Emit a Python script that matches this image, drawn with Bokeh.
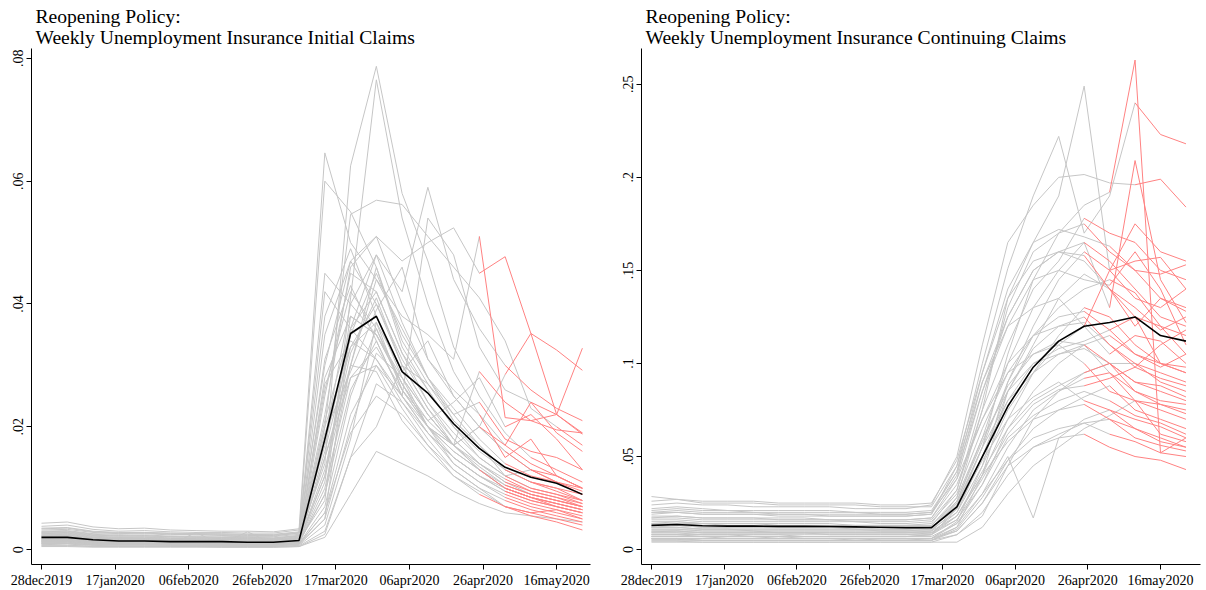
from bokeh.plotting import figure
from bokeh.layouts import row
from bokeh.models import Range1d, FixedTicker, Title
from bokeh.embed import file_html
from bokeh.resources import INLINE
import pandas as pd

# ---------------- data ----------------
week_dates = ["2019-12-28", "2020-01-04", "2020-01-11", "2020-01-18", "2020-01-25",
              "2020-02-01", "2020-02-08", "2020-02-15", "2020-02-22", "2020-02-29",
              "2020-03-07", "2020-03-14", "2020-03-21", "2020-03-28", "2020-04-04",
              "2020-04-11", "2020-04-18", "2020-04-25", "2020-05-02", "2020-05-09",
              "2020-05-16", "2020-05-23"]
tick_labels = ["28dec2019", "17jan2020", "06feb2020", "26feb2020",
               "17mar2020", "06apr2020", "26apr2020", "16may2020"]

# Initial claims, per 1000 (state rows, 22 weekly values)
initial_claims = [
    [2.6, 2.7, 2.2, 2.0, 2.1, 1.9, 1.9, 1.8, 1.8, 1.7, 2.0, 14, 62.5, 78.7, 58, 47, 33, 25, 19, 15, 13, 11],
    [1.8, 1.9, 1.5, 1.4, 1.4, 1.3, 1.3, 1.3, 1.2, 1.2, 1.5, 8, 41, 76.5, 54, 40, 29, 22, 17, 14, 12, 10],
    [4.3, 4.5, 3.7, 3.4, 3.5, 3.2, 3.1, 3.0, 3.0, 2.9, 3.4, 64.6, 50, 44, 36, 28, 23, 18, 14, 12, 11, 10],
    [3.0, 3.1, 2.6, 2.5, 2.6, 2.4, 2.5, 2.3, 2.2, 2.2, 2.7, 60, 55, 46, 34, 27, 21, 17, 13, 11, 10, 9],
    [2.2, 2.3, 1.8, 1.7, 1.7, 1.6, 1.6, 1.6, 1.5, 1.5, 1.8, 20, 54.6, 56.9, 56.2, 51, 46, 41, 34, 23, 20, 17],
    [1.5, 1.6, 1.3, 1.2, 1.2, 1.1, 1.1, 1.1, 1.0, 1.0, 1.3, 12, 30, 44, 38, 35, 31, 51, 21.5, 21, 19.5, 19],
    [2.0, 2.1, 1.7, 1.6, 1.6, 1.5, 1.5, 1.4, 1.4, 1.4, 1.7, 18, 40, 48, 42, 59, 44, 36, 30, 26, 23, 21],
    [2.4, 2.5, 2.0, 1.9, 1.9, 1.8, 1.8, 1.7, 1.7, 1.7, 2.1, 22, 46, 51, 47, 50, 52.4, 45, 47.7, 35.2, 32.5, 29.2],
    [1.2, 1.3, 1.0, 0.9, 0.9, 0.9, 0.9, 0.8, 0.8, 0.8, 1.0, 6, 22, 30, 25, 54, 48, 33, 26, 24, 22, 19],
    [3.5, 3.6, 3.0, 2.8, 2.8, 2.7, 2.6, 2.6, 2.5, 2.5, 2.9, 30, 47, 51, 40, 31, 25, 20, 16, 13, 12, 10],
    [1.0, 1.1, 0.8, 0.8, 0.8, 0.7, 0.7, 0.7, 0.7, 0.7, 0.9, 5, 36, 48, 37, 28, 21, 17, 13, 11, 10, 8],
    [1.4, 1.5, 1.2, 1.1, 1.1, 1.1, 1.0, 1.0, 1.0, 1.0, 1.2, 25, 45, 42, 32, 24, 19, 15, 12, 10, 9, 8],
    [2.8, 2.9, 2.4, 2.2, 2.3, 2.1, 2.1, 2.0, 2.0, 1.9, 2.3, 35, 47, 40, 30, 23, 18, 14, 11, 9.5, 8.5, 7.5],
    [1.6, 1.7, 1.4, 1.3, 1.3, 1.2, 1.2, 1.2, 1.1, 1.1, 1.4, 15, 30, 46, 33, 26, 20, 16, 13, 11, 9.5, 8],
    [0.8, 0.9, 0.7, 0.6, 0.6, 0.6, 0.6, 0.6, 0.6, 0.5, 0.7, 4, 18, 37, 29, 22, 17, 13, 10, 8.5, 7, 6],
    [1.9, 2.0, 1.6, 1.5, 1.5, 1.4, 1.4, 1.4, 1.3, 1.3, 1.6, 28, 38, 35, 27, 20, 16, 13, 10, 8.5, 7.5, 6.5],
    [2.1, 2.2, 1.8, 1.7, 1.8, 1.6, 1.6, 1.6, 1.5, 1.5, 1.9, 20, 33, 40, 31, 24, 18, 14, 11.5, 9.5, 8.5, 7],
    [1.3, 1.4, 1.1, 1.0, 1.0, 1.0, 1.0, 0.9, 0.9, 0.9, 1.1, 10, 28, 33, 26, 21, 17, 14, 11, 9, 8, 7],
    [3.2, 3.3, 2.8, 2.6, 2.7, 2.5, 2.4, 2.4, 2.3, 2.3, 2.7, 42, 36, 31, 25, 19, 15, 12, 10, 8.5, 7.5, 6.5],
    [1.1, 1.2, 0.9, 0.9, 0.9, 0.8, 0.8, 0.8, 0.8, 0.8, 1.0, 7, 25, 36, 27, 20, 15, 12, 9.5, 8, 7, 6],
    [2.5, 2.6, 2.1, 2.0, 2.0, 1.9, 1.9, 1.9, 1.8, 1.8, 2.2, 17, 35, 45, 35, 28, 22, 24, 18, 16, 15, 13],
    [0.7, 0.7, 0.6, 0.5, 0.5, 0.5, 0.5, 0.5, 0.5, 0.5, 0.6, 3, 15, 27, 24, 18, 13, 10, 8, 6.5, 5.5, 4.5],
    [1.7, 1.8, 1.4, 1.3, 1.4, 1.3, 1.3, 1.2, 1.2, 1.2, 1.5, 12, 35, 38, 29, 34, 25, 20, 16, 13, 11, 9.5],
    [2.3, 2.4, 1.9, 1.8, 1.8, 1.7, 1.7, 1.7, 1.6, 1.6, 1.9, 26, 42, 36, 26, 20, 16, 13, 10, 8.5, 7.5, 6.5],
    [1.5, 1.5, 1.2, 1.2, 1.2, 1.1, 1.1, 1.1, 1.0, 1.0, 1.3, 13, 32, 41, 30, 23, 17, 13.5, 10.5, 9, 8, 7],
    [0.9, 1.0, 0.8, 0.7, 0.7, 0.7, 0.7, 0.7, 0.6, 0.6, 0.8, 5, 20, 32, 28, 22, 17, 20, 17, 24, 19, 16],
    [3.8, 4.0, 3.3, 3.0, 3.1, 2.9, 2.8, 2.8, 2.7, 2.7, 3.2, 38, 49, 38, 28, 22, 17, 13, 10.5, 9, 8, 7],
    [1.2, 1.3, 1.0, 1.0, 1.0, 0.9, 0.9, 0.9, 0.9, 0.9, 1.1, 9, 26, 34, 25, 19, 14, 11, 9, 7.5, 6.5, 5.5],
    [2.0, 2.0, 1.7, 1.6, 1.6, 1.5, 1.5, 1.5, 1.4, 1.4, 1.7, 19, 29, 39, 46, 31, 26, 22, 15, 18, 12, 10],
    [1.4, 1.5, 1.2, 1.1, 1.1, 1.0, 1.0, 1.0, 1.0, 1.0, 1.2, 11, 38, 35, 28, 20, 14, 11, 8.5, 7, 6, 5],
    [0.6, 0.6, 0.5, 0.5, 0.5, 0.5, 0.5, 0.4, 0.4, 0.4, 0.5, 2.5, 15, 20, 30, 27, 22, 17, 12, 10, 9, 7.5],
    [2.7, 2.8, 2.3, 2.2, 2.2, 2.1, 2.0, 2.0, 2.0, 1.9, 2.3, 27, 34, 31, 24, 19, 15, 12, 9.5, 8, 7, 6],
    [1.6, 1.6, 1.3, 1.3, 1.3, 1.2, 1.2, 1.2, 1.1, 1.1, 1.4, 15, 28, 30, 23, 17, 12, 9, 7, 6, 5, 4],
    [1.0, 1.0, 0.8, 0.8, 0.8, 0.8, 2.8, 0.7, 0.7, 0.7, 0.9, 6, 19, 25, 22, 17, 13, 10, 7, 5.5, 4.5, 3.2],
    [1.8, 1.9, 1.5, 1.5, 1.5, 1.4, 1.4, 1.3, 1.3, 1.3, 1.6, 16, 33, 37, 26, 20, 17, 29, 24, 21, 22, 18.8],
    [2.9, 3.0, 2.5, 2.3, 2.4, 2.2, 2.2, 2.2, 2.1, 2.1, 2.5, 31, 43, 34, 25, 20, 17, 20, 28.5, 35.2, 22, 32.8],
    [0.5, 0.5, 0.4, 0.4, 0.4, 0.4, 0.4, 0.4, 0.4, 0.4, 0.5, 2, 9, 16, 14, 12, 9.5, 7.5, 6, 5.5, 5, 4.5],
    [1.3, 1.3, 1.1, 1.0, 1.0, 1.0, 1.0, 1.0, 2.9, 0.9, 1.2, 9, 30, 29, 21, 16, 12, 9.5, 7, 6, 6.5, 5],
    [2.2, 2.3, 1.9, 1.8, 1.8, 1.7, 1.7, 1.6, 1.6, 1.6, 1.9, 21, 36, 42, 32, 26, 20, 15, 12, 13, 11, 9],
    [3.4, 3.5, 2.9, 2.7, 2.8, 2.6, 2.6, 2.5, 2.5, 2.4, 2.8, 45, 40, 35, 27, 21, 24, 28, 20, 22, 18, 13],
]
# week index at which each state's line turns red (None = never)
initial_reopen = [19, 18, 18, 19, 20, 17, 18, 17, 19, 18, 18, 18, 18, 19, 18, 17, 18, 19, 18, 18,
                  17, 18, 19, 18, 18, 17, 18, 18, 17, 18, 19, 18, 17, 18, 17, 18, None, 18, 19, 18]
initial_mean = [2.0, 2.0, 1.6, 1.4, 1.4, 1.3, 1.3, 1.3, 1.2, 1.2, 1.5,
                18, 35.2, 38, 29, 25.5, 20.5, 16.5, 13.4, 11.8, 10.8, 9.0]

# Continuing claims, per 1000
continuing_claims = [
    [20, 20, 19, 19, 19, 19, 19, 18, 18, 18, 18, 19, 45, 100, 151, 190, 222, 170, 190, 240, 223, 218],
    [8, 8, 7, 7, 7, 7, 7, 7, 7, 7, 7, 8, 22, 55, 105, 145, 170, 185, 192, 263, 52, 60],
    [12, 12, 11, 11, 11, 11, 11, 11, 11, 10, 10, 11, 28, 75, 135, 165, 190, 249, 150, 135, 130, 140],
    [17, 18, 17, 17, 17, 16, 16, 16, 16, 16, 16, 17, 38, 85, 125, 150, 160, 165, 130, 209, 145, 122],
    [24, 25, 24, 24, 23, 23, 23, 23, 22, 22, 22, 24, 50, 110, 165, 185, 200, 201.5, 197, 196, 199, 184],
    [6, 6, 6, 6, 6, 6, 6, 6, 6, 5, 5, 6, 15, 45, 90, 120, 145, 160, 150, 155, 157, 140],
    [15, 15, 14, 14, 14, 14, 14, 14, 13, 13, 13, 14, 32, 80, 130, 160, 170, 175, 160, 150, 148, 153],
    [28.5, 27, 26, 26, 26, 25, 25, 25, 25, 24, 24, 25, 48, 95, 140, 165, 172, 168, 163, 150, 135, 130],
    [10, 10, 10, 10, 10, 9, 9, 9, 9, 9, 9, 10, 26, 60, 100, 130, 150, 165, 155, 140, 125, 120],
    [5, 5, 5, 5, 5, 5, 5, 5, 5, 5, 5, 5, 12, 40, 85, 110, 135, 148, 140, 125, 120, 105],
    [19, 20, 19, 19, 19, 18, 18, 18, 18, 18, 18, 19, 40, 90, 125, 150, 160, 158, 140, 120, 135, 128],
    [13, 14, 13, 13, 13, 12, 12, 12, 12, 12, 12, 12, 24, 55, 90, 115, 130, 140, 145, 138, 120, 115],
    [8, 8, 8, 8, 8, 8, 7, 7, 7, 7, 7, 8, 18, 40, 70, 95, 115, 130, 125, 110, 100, 95],
    [22, 23, 22, 21, 21, 21, 21, 21, 20, 20, 20, 21, 42, 85, 120, 145, 150, 145, 142, 160, 140, 110],
    [11, 11, 10, 10, 10, 10, 10, 10, 10, 10, 10, 10, 22, 50, 85, 108, 120, 125, 110, 100, 95, 90],
    [7, 7, 7, 7, 7, 6, 6, 6, 6, 6, 6, 6, 14, 35, 65, 85, 100, 110, 115, 105, 100, 98],
    [16, 16, 15, 15, 15, 15, 15, 15, 15, 14, 14, 15, 30, 65, 95, 115, 125, 128, 118, 105, 98, 105],
    [9, 9, 9, 9, 9, 9, 9, 8, 8, 8, 8, 9, 20, 50, 80, 100, 108, 112, 118, 125, 100, 95],
    [12, 13, 12, 12, 12, 12, 12, 12, 11, 11, 11, 12, 25, 55, 80, 95, 105, 110, 100, 90, 85, 80],
    [5.5, 5.5, 5, 5, 5, 5, 5, 5, 5, 5, 5, 5, 8, 18, 45, 70, 85, 95, 100, 100, 90, 85],
    [18, 18, 17, 17, 17, 17, 17, 16, 16, 16, 16, 17, 35, 70, 100, 115, 120, 122, 110, 98, 92, 88],
    [7, 7, 7, 6, 6, 6, 6, 6, 6, 6, 6, 6, 12, 30, 55, 75, 85, 92, 95, 80, 75, 70],
    [14, 15, 14, 14, 14, 13, 13, 13, 13, 13, 13, 13, 28, 60, 85, 100, 105, 108, 100, 90, 88, 82],
    [10, 10, 9, 9, 9, 9, 9, 9, 9, 9, 9, 9, 18, 42, 65, 80, 88, 95, 100, 85, 78, 75],
    [6, 6, 5, 5, 5, 5, 5, 5, 5, 5, 5, 5, 10, 25, 48, 65, 75, 82, 88, 75, 70, 65],
    [20, 21, 20, 20, 20, 19, 19, 19, 19, 19, 19, 20, 38, 70, 95, 105, 110, 100, 85, 80, 78, 73],
    [9, 9, 8, 8, 8, 8, 8, 8, 8, 8, 8, 8, 16, 35, 60, 72, 80, 85, 80, 72, 68, 62],
    [13, 13, 12, 12, 12, 12, 12, 12, 12, 11, 11, 12, 22, 48, 70, 82, 90, 80, 75, 70, 66, 60],
    [4.5, 4.5, 4, 4, 4, 4, 4, 4, 4, 4, 4, 4, 8, 20, 40, 55, 62, 68, 70, 60, 56, 53],
    [11, 11, 11, 11, 10, 10, 10, 10, 10, 10, 10, 10, 18, 40, 58, 70, 75, 78, 70, 65, 58, 55],
    [8, 8, 8, 8, 7, 7, 7, 7, 7, 7, 7, 7, 14, 30, 48, 60, 65, 68, 62, 58, 52, 50],
    [26, 27, 25, 25, 25, 24, 24, 24, 24, 23, 23, 23, 45, 90, 120, 130, 135, 120, 150, 175, 160, 155],
    [4, 4, 4, 4, 4, 4, 4, 4, 4, 4, 4, 4, 4, 12, 30, 45, 55, 65, 72, 80, 62, 58],
    [6, 6, 6, 6, 6, 6, 6, 6, 5, 5, 5, 5, 11, 28, 50, 17, 60, 70, 75, 65, 60, 55],
    [17, 17, 16, 16, 16, 16, 16, 16, 15, 15, 15, 16, 32, 75, 110, 140, 155, 178, 170, 165, 150, 145],
    [12, 12, 11, 11, 11, 11, 11, 11, 11, 11, 11, 11, 20, 45, 75, 95, 110, 120, 105, 115, 112, 100],
    [9.5, 10, 9, 9, 9, 9, 9, 9, 9, 9, 9, 9, 16, 38, 62, 78, 86, 88, 92, 98, 110, 118],
    [14, 14, 14, 13, 13, 13, 13, 13, 13, 13, 13, 13, 26, 58, 88, 105, 112, 110, 95, 85, 80, 78],
    [7, 7, 7, 7, 7, 7, 6, 6, 6, 6, 6, 6, 10, 25, 45, 55, 60, 62, 55, 50, 48, 43],
    [21, 22, 21, 21, 20, 20, 20, 20, 20, 19, 19, 20, 42, 95, 135, 155, 160, 155, 140, 130, 118, 125],
]
continuing_reopen = [19, 18, 18, 18, 19, 17, 17, 18, 17, 18, 17, 18, 17, 18, 17, 18, 17, 18, 17, 19,
                     18, 17, 18, 17, 18, 17, 18, 17, 18, 17, 18, 17, 19, 18, 17, 18, 17, 18, 17, 18]
continuing_mean = [13, 13.5, 12.8, 12.6, 12.6, 12.5, 12.5, 12.4, 12.2, 12, 11.8,
                   11.8, 23, 50, 77, 98, 112, 120, 122, 125, 115, 112]

# ---------------- build ----------------
base = pd.Timestamp(week_dates[0])
days = [(pd.Timestamp(d) - base).days for d in week_dates]
tick_days = [(pd.to_datetime(t, format="%d%b%Y") - base).days for t in tick_labels]

GRAY = "#c6c6c6"
RED = "#ff8282"
FONT = "Liberation Serif"


def make_panel(title_text, states, reopen, mean, yticks, ylabels,
               xr, yr, ml, mr):
    p = figure(width=603, height=590, output_backend="svg", toolbar_location=None,
               x_range=Range1d(*xr), y_range=Range1d(*yr), title_location=None,
               min_border_left=ml, min_border_right=mr, min_border_top=48,
               min_border_bottom=0)
    p.add_layout(Title(text=title_text, align="left", offset=4, standoff=1,
                       text_font=FONT, text_font_size="19.6px", text_font_style="normal",
                       text_color="black", text_line_height=1.0), "above")
    p.xgrid.visible = False
    p.ygrid.visible = False
    p.outline_line_color = None
    p.background_fill_color = "white"

    for ax in (p.xaxis[0], p.yaxis[0]):
        ax.axis_line_color = "black"
        ax.major_tick_line_color = "black"
        ax.minor_tick_line_color = None
        ax.major_tick_in = 0
        ax.major_tick_out = 5
        ax.major_label_text_font = FONT
        ax.major_label_text_font_size = "14px"
        ax.major_label_text_color = "black"
    p.xaxis[0].ticker = FixedTicker(ticks=tick_days)
    p.xaxis[0].major_label_overrides = {d: t for d, t in zip(tick_days, tick_labels)}
    p.xaxis[0].major_label_standoff = 3
    p.yaxis[0].ticker = FixedTicker(ticks=yticks)
    p.yaxis[0].major_label_overrides = {v: t for v, t in zip(yticks, ylabels)}
    p.yaxis[0].major_label_orientation = "vertical"
    p.yaxis[0].major_label_standoff = 3

    gx, gy, rx, ry = [], [], [], []
    for vals, r in zip(states, reopen):
        v = [x / 1000 for x in vals]
        end = len(v) - 1 if r is None else r
        gx.append(days[:end + 1])
        gy.append(v[:end + 1])
        if r is not None:
            rx.append(days[r:])
            ry.append(v[r:])
    p.multi_line(gx, gy, line_color=GRAY, line_width=1)
    p.multi_line(rx, ry, line_color=RED, line_width=1)
    p.line(days, [m / 1000 for m in mean], line_color="black", line_width=1.6)
    return p


left = make_panel("Reopening Policy:\nWeekly Unemployment Insurance Initial Claims",
                  initial_claims, initial_reopen, initial_mean,
                  [0, 0.02, 0.04, 0.06, 0.08], ["0", ".02", ".04", ".06", ".08"],
                  (-2.72, 149.2), (-0.00242, 0.0816), 31, 13)
right = make_panel("Reopening Policy:\nWeekly Unemployment Insurance Continuing Claims",
                   continuing_claims, continuing_reopen, continuing_mean,
                   [0, 0.05, 0.1, 0.15, 0.2, 0.25], ["0", ".05", ".1", ".15", ".2", ".25"],
                   (-2.75, 151.0), (-0.008, 0.2692), 38, 6)

layout = row(left, right)
open("out.html", "w").write(file_html(layout, INLINE))
